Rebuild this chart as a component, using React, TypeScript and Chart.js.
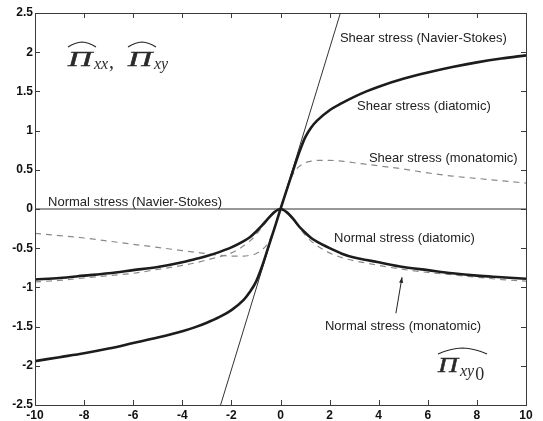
import React, { useEffect, useRef } from "react";
import { Chart, registerables } from "chart.js";

Chart.register(...registerables);

// ---- data ----
const xs = [-10, -9, -8, -7, -6, -5, -4, -3.5, -3, -2.5, -2, -1.5, -1.25, -1, -0.75, -0.5, -0.25, 0, 0.25, 0.5, 0.75, 1, 1.25, 1.5, 2, 2.5, 3, 3.5, 4, 5, 6, 7, 8, 9, 10];

const shearDiatomic = [-1.94, -1.89, -1.84, -1.78, -1.71, -1.64, -1.56, -1.51, -1.45, -1.38, -1.29, -1.16, -1.06, -0.93, -0.73, -0.49, -0.25, 0, 0.24, 0.48, 0.71, 0.91, 1.04, 1.13, 1.26, 1.35, 1.43, 1.5, 1.56, 1.66, 1.74, 1.81, 1.87, 1.92, 1.96];

const shearMonatomic = [-0.31, -0.34, -0.37, -0.41, -0.45, -0.49, -0.53, -0.55, -0.57, -0.59, -0.6, -0.6, -0.59, -0.57, -0.52, -0.43, -0.24, 0, 0.24, 0.44, 0.54, 0.59, 0.61, 0.62, 0.62, 0.61, 0.59, 0.57, 0.55, 0.51, 0.46, 0.42, 0.39, 0.36, 0.33];

const normalDiatomic = [-0.9, -0.88, -0.85, -0.82, -0.78, -0.74, -0.68, -0.64, -0.6, -0.55, -0.49, -0.41, -0.36, -0.29, -0.21, -0.12, -0.04, 0, -0.04, -0.12, -0.22, -0.3, -0.37, -0.42, -0.5, -0.57, -0.62, -0.65, -0.68, -0.74, -0.78, -0.82, -0.85, -0.87, -0.89];

const normalMonatomic = [-0.93, -0.91, -0.88, -0.85, -0.82, -0.77, -0.72, -0.69, -0.65, -0.61, -0.56, -0.47, -0.41, -0.33, -0.23, -0.13, -0.04, 0, -0.04, -0.13, -0.23, -0.33, -0.41, -0.47, -0.56, -0.62, -0.66, -0.69, -0.72, -0.77, -0.81, -0.84, -0.87, -0.9, -0.92];

const nsShearX = [-2.44, 2.44];
const nsShearY = [-2.5, 2.5];
const nsNormalX = [-10, 10];
const nsNormalY = [0, 0];

const xTickValues = [-10, -8, -6, -4, -2, 0, 2, 4, 6, 8, 10];
const yTickValues = [-2.5, -2, -1.5, -1, -0.5, 0, 0.5, 1, 1.5, 2, 2.5];

const labelTexts = [
  "Shear stress (Navier-Stokes)",
  "Shear stress (diatomic)",
  "Shear stress (monatomic)",
  "Normal stress (Navier-Stokes)",
  "Normal stress (diatomic)",
  "Normal stress (monatomic)",
];
const labelX = [2.42, 3.12, 3.6, -9.47, 2.18, 1.81];
const labelY = [2.18, 1.31, 0.65, 0.09, -0.38, -1.5];

const arrowFrom = { x: 4.7, y: -1.33 };
const arrowTo = { x: 4.95, y: -0.87 };

const toPts = (xv: number[], yv: number[]) => xv.map((x, i) => ({ x, y: yv[i] }));

const SERIF = '"Liberation Serif", "Times New Roman", serif';

function drawHat(ctx: CanvasRenderingContext2D, x0: number, x1: number, yTop: number, yEnd: number) {
  const mid = (x0 + x1) / 2;
  const w = x1 - x0;
  ctx.beginPath();
  ctx.moveTo(x0, yEnd);
  ctx.quadraticCurveTo(x0 + w * 0.25, yTop + 0.5, mid, yTop);
  ctx.quadraticCurveTo(x1 - w * 0.25, yTop + 0.5, x1, yEnd);
  ctx.stroke();
}

function drawPi(ctx: CanvasRenderingContext2D, x: number, baseline: number, size: number, targetW: number) {
  ctx.save();
  ctx.font = `italic ${size}px ${SERIF}`;
  const w = ctx.measureText("\u03A0").width;
  ctx.translate(x, baseline);
  ctx.scale(targetW / w, 1);
  ctx.lineWidth = 0.5;
  ctx.fillText("\u03A0", 0, 0);
  ctx.strokeText("\u03A0", 0, 0);
  ctx.restore();
}

const overlayPlugin = {
  id: "overlay",
  afterDraw(chart: any) {
    const { ctx, chartArea: a, scales } = chart;
    const sx = scales.x;
    const sy = scales.y;
    ctx.save();
    // frame
    ctx.strokeStyle = "#3a3a3a";
    ctx.lineWidth = 1;
    ctx.strokeRect(a.left + 0.5, a.top + 0.5, a.right - a.left, a.bottom - a.top);
    // inward ticks
    ctx.beginPath();
    xTickValues.forEach((v) => {
      const px = Math.round(sx.getPixelForValue(v)) + 0.5;
      ctx.moveTo(px, a.bottom);
      ctx.lineTo(px, a.bottom - 5);
      ctx.moveTo(px, a.top);
      ctx.lineTo(px, a.top + 5);
    });
    yTickValues.forEach((v) => {
      const py = Math.round(sy.getPixelForValue(v)) + 0.5;
      ctx.moveTo(a.left, py);
      ctx.lineTo(a.left + 5, py);
      ctx.moveTo(a.right, py);
      ctx.lineTo(a.right - 5, py);
    });
    ctx.stroke();

    // curve labels
    ctx.fillStyle = "#222";
    ctx.font = '13px "Liberation Sans", Arial, sans-serif';
    ctx.textBaseline = "middle";
    ctx.textAlign = "left";
    labelTexts.forEach((t, i) => {
      ctx.fillText(t, sx.getPixelForValue(labelX[i]), sy.getPixelForValue(labelY[i]));
    });

    // arrow
    const ax0 = sx.getPixelForValue(arrowFrom.x);
    const ay0 = sy.getPixelForValue(arrowFrom.y);
    const ax1 = sx.getPixelForValue(arrowTo.x);
    const ay1 = sy.getPixelForValue(arrowTo.y);
    ctx.strokeStyle = "#222";
    ctx.lineWidth = 1;
    ctx.beginPath();
    ctx.moveTo(ax0, ay0);
    ctx.lineTo(ax1, ay1);
    ctx.stroke();
    const ang = Math.atan2(ay1 - ay0, ax1 - ax0);
    const hl = 6;
    ctx.beginPath();
    ctx.moveTo(ax1, ay1);
    ctx.lineTo(ax1 - hl * Math.cos(ang - 0.35), ay1 - hl * Math.sin(ang - 0.35));
    ctx.lineTo(ax1 - hl * Math.cos(ang + 0.35), ay1 - hl * Math.sin(ang + 0.35));
    ctx.closePath();
    ctx.fill();

    // math labels
    ctx.fillStyle = "#2a2a2a";
    ctx.strokeStyle = "#2a2a2a";
    ctx.textBaseline = "alphabetic";
    // top-left: Pi_xx, Pi_xy
    drawPi(ctx, 68, 66, 20, 24);
    ctx.font = `italic 16px ${SERIF}`;
    ctx.fillText("xx", 94, 69);
    ctx.font = `20px ${SERIF}`;
    ctx.fillText(",", 109, 68);
    drawPi(ctx, 128, 66, 20, 24);
    ctx.font = `italic 16px ${SERIF}`;
    ctx.fillText("xy", 154, 69);
    ctx.lineWidth = 1.2;
    drawHat(ctx, 68, 96, 42, 47);
    drawHat(ctx, 128, 156, 42, 47);
    // bottom-right: Pi_xy0
    drawPi(ctx, 438, 372, 22, 20);
    ctx.font = `italic 16px ${SERIF}`;
    ctx.fillText("xy", 460, 376);
    const wxy = ctx.measureText("xy").width;
    ctx.font = `18px ${SERIF}`;
    ctx.fillText("0", 460 + wxy + 1, 380);
    ctx.lineWidth = 1.2;
    drawHat(ctx, 438, 487, 348, 354);

    ctx.restore();
  },
};

export default function App() {
  const ref = useRef<HTMLCanvasElement | null>(null);

  useEffect(() => {
    if (!ref.current) return;
    const tickFont = { family: '"Liberation Sans", Arial, sans-serif', size: 12, weight: "bold" as const };
    const chart = new Chart(ref.current, {
      type: "scatter",
      data: {
        datasets: [
          {
            label: "Shear stress (diatomic)",
            data: toPts(xs, shearDiatomic),
            showLine: true,
            borderColor: "#1c1c1c",
            borderWidth: 2.6,
            pointRadius: 0,
            cubicInterpolationMode: "monotone",
          },
          {
            label: "Normal stress (diatomic)",
            data: toPts(xs, normalDiatomic),
            showLine: true,
            borderColor: "#1c1c1c",
            borderWidth: 2.6,
            pointRadius: 0,
            cubicInterpolationMode: "monotone",
          },
          {
            label: "Shear stress (monatomic)",
            data: toPts(xs, shearMonatomic),
            showLine: true,
            borderColor: "#8a8a8a",
            borderWidth: 1.2,
            borderDash: [6, 5],
            pointRadius: 0,
            cubicInterpolationMode: "monotone",
          },
          {
            label: "Normal stress (monatomic)",
            data: toPts(xs, normalMonatomic),
            showLine: true,
            borderColor: "#8a8a8a",
            borderWidth: 1.2,
            borderDash: [6, 5],
            pointRadius: 0,
            cubicInterpolationMode: "monotone",
          },
          {
            label: "Shear stress (Navier-Stokes)",
            data: toPts(nsShearX, nsShearY),
            showLine: true,
            borderColor: "#333",
            borderWidth: 1,
            pointRadius: 0,
          },
          {
            label: "Normal stress (Navier-Stokes)",
            data: toPts(nsNormalX, nsNormalY),
            showLine: true,
            borderColor: "#333",
            borderWidth: 1,
            pointRadius: 0,
          },
        ],
      },
      options: {
        animation: false,
        responsive: true,
        maintainAspectRatio: false,
        layout: { padding: { left: 0, right: 17, top: 13, bottom: 0 } },
        plugins: { legend: { display: false }, tooltip: { enabled: false } },
        scales: {
          x: {
            type: "linear",
            min: -10,
            max: 10,
            grid: { display: false, drawTicks: false },
            border: { display: false },
            afterBuildTicks: (s: any) => {
              s.ticks = xTickValues.map((v) => ({ value: v }));
            },
            afterFit: (s: any) => {
              s.height = 16;
            },
            ticks: {
              font: tickFont,
              color: "#111",
              padding: 3,
              maxRotation: 0,
              autoSkip: false,
              callback: (v: any) => String(v),
            },
          },
          y: {
            type: "linear",
            min: -2.5,
            max: 2.5,
            grid: { display: false, drawTicks: false },
            border: { display: false },
            afterBuildTicks: (s: any) => {
              s.ticks = yTickValues.map((v) => ({ value: v }));
            },
            afterFit: (s: any) => {
              s.width = 35;
            },
            ticks: {
              font: tickFont,
              color: "#111",
              padding: 2,
              autoSkip: false,
              callback: (v: any) => String(v),
            },
          },
        },
      },
      plugins: [overlayPlugin],
    });
    return () => chart.destroy();
  }, []);

  return (
    <div style={{ position: "fixed", left: 0, top: 0, width: 543, height: 421, background: "#fff" }}>
      <canvas ref={ref} />
    </div>
  );
}
